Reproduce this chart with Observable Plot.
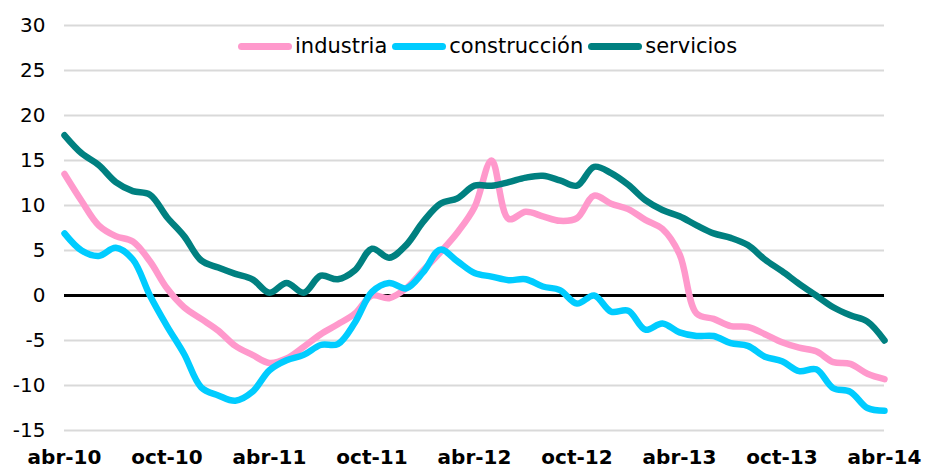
<!DOCTYPE html>
<html>
<head>
<meta charset="utf-8">
<script src="https://cdn.jsdelivr.net/npm/d3@7"></script>
<script src="https://cdn.jsdelivr.net/npm/@observablehq/plot@0.6"></script>
<style>
  html, body { margin: 0; padding: 0; background: #fff; }
  #wrap { position: relative; width: 926px; height: 468px; font-family: "DejaVu Sans", Verdana, sans-serif; }
  #legend { position: absolute; top: 34px; left: 238px; display: flex; align-items: center; font-size: 21px; color: #000; white-space: nowrap; }
  .sw { width: 54px; height: 7px; border-radius: 4px; margin-right: 3px; }
  .lab { margin-right: 5px; line-height: 24px; }
</style>
</head>
<body>
<div id="wrap"><div id="legend"></div></div>
<script>
const seriesNames = ["industria", "construcción", "servicios"];
const seriesColors = ["#FF99CC", "#00CCFF", "#008080"];
const tickLabels = ["abr-10", "oct-10", "abr-11", "oct-11", "abr-12", "oct-12", "abr-13", "oct-13", "abr-14"];

const industria = [13.5, 10.5, 7.8, 6.6, 6.0, 3.8, 0.8, -1.3, -2.6, -3.9, -5.6, -6.6, -7.5,
  -7.0, -5.7, -4.3, -3.2, -2.0, 0.0, -0.3, 0.8, 2.8, 4.8, 7.0, 9.8,
  15.0, 8.5, 9.3, 8.8, 8.3, 8.6, 11.1, 10.2, 9.6, 8.4, 7.4, 4.6,
  -2.0, -2.6, -3.4, -3.5, -4.3, -5.2, -5.8, -6.2, -7.4, -7.6, -8.7, -9.3];
const construccion = [6.9, 5.0, 4.4, 5.3, 4.0, 0.0, -3.4, -6.5, -10.2, -11.1, -11.7, -10.7, -8.3,
  -7.2, -6.6, -5.5, -5.4, -3.0, 0.4, 1.4, 0.8, 2.6, 5.1, 3.8, 2.5,
  2.1, 1.7, 1.8, 1.0, 0.6, -0.9, 0.0, -1.8, -1.7, -3.8, -3.1, -4.1,
  -4.5, -4.5, -5.3, -5.6, -6.8, -7.3, -8.4, -8.2, -10.3, -10.7, -12.5, -12.8];
const servicios = [17.8, 15.8, 14.5, 12.6, 11.6, 11.2, 8.7, 6.6, 3.9, 3.1, 2.4, 1.8, 0.3,
  1.4, 0.3, 2.2, 1.8, 2.8, 5.2, 4.2, 5.6, 8.2, 10.2, 10.8, 12.2,
  12.2, 12.6, 13.1, 13.3, 12.8, 12.2, 14.3, 13.6, 12.3, 10.6, 9.5, 8.8,
  7.8, 6.9, 6.4, 5.6, 4.0, 2.7, 1.3, 0.0, -1.3, -2.2, -2.9, -5.0];

const allSeries = [industria, construccion, servicios];
const rows = allSeries.flatMap((arr, s) => arr.map((v, i) => ({ i, v, s: seriesNames[s] })));

const chart = Plot.plot({
  width: 926,
  height: 468,
  marginLeft: 64,
  marginRight: 42,
  marginTop: 25,
  marginBottom: 38,
  style: { fontFamily: "DejaVu Sans, Verdana, sans-serif", fontSize: "20px", background: "transparent", overflow: "visible" },
  x: { domain: [0, 48], label: null },
  y: { domain: [-15, 30], label: null },
  color: { domain: seriesNames, range: seriesColors },
  marks: [
    Plot.gridY(d3.range(-15, 31, 5), { stroke: "#d9d9d9", strokeOpacity: 1, strokeWidth: 2 }),
    Plot.ruleY([0], { stroke: "#000", strokeWidth: 3 }),
    Plot.line(rows, { x: "i", y: "v", z: "s", stroke: "s", strokeWidth: 6.5, curve: "catmull-rom", strokeLinecap: "round", strokeLinejoin: "round" }),
    Plot.axisY(d3.range(-15, 31, 5), { label: null, tickSize: 0, tickPadding: 19, tickFormat: d => String(d), fontSize: 20, fill: "#000" }),
    Plot.axisX(d3.range(0, 49, 6), { label: null, tickSize: 0, tickPadding: 19, tickFormat: d => tickLabels[d / 6], fontSize: 20, fontWeight: "bold", fill: "#000" })
  ]
});

const wrap = document.getElementById("wrap");
wrap.insertBefore(chart, wrap.firstChild);

const legend = document.getElementById("legend");
seriesNames.forEach((n, k) => {
  const sw = document.createElement("div");
  sw.className = "sw";
  sw.style.background = seriesColors[k];
  const lab = document.createElement("div");
  lab.className = "lab";
  lab.textContent = n;
  legend.appendChild(sw);
  legend.appendChild(lab);
});
</script>
</body>
</html>
